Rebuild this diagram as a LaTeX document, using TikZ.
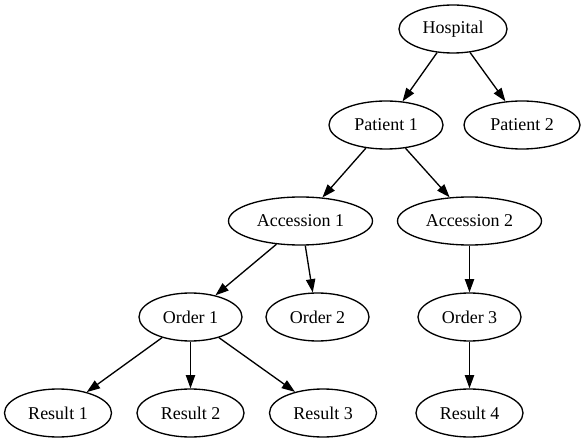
\documentclass[tikz,border=0pt]{standalone}
\usepackage{fontspec}
\setmainfont{Liberation Serif}
\usetikzlibrary{shapes.geometric,arrows.meta}
\begin{document}
\begin{tikzpicture}[x=1pt,y=-1pt,
  nd/.style={draw,ellipse,line width=1.33pt,inner sep=0pt,minimum height=48pt,font=\fontsize{18}{20}\selectfont},
  ed/.style={draw,line width=1.33pt,-{Triangle[length=13.3pt,width=9.3pt]}}]
\useasboundingbox (0,0) rectangle (583,443);
\node[nd,minimum width=108pt] (h) at (453,29) {Hospital};
\node[nd,minimum width=114pt] (p1) at (386,125) {Patient 1};
\node[nd,minimum width=116pt] (p2) at (522,125) {Patient 2};
\node[nd,minimum width=144pt] (a1) at (300.5,221) {Accession 1};
\node[nd,minimum width=144pt] (a2) at (469.5,221) {Accession 2};
\node[nd,minimum width=103pt] (o1) at (190.5,317) {Order 1};
\node[nd,minimum width=103pt] (o2) at (317.5,317) {Order 2};
\node[nd,minimum width=103pt] (o3) at (469.5,317) {Order 3};
\node[nd,minimum width=107pt] (r1) at (58,413) {Result 1};
\node[nd,minimum width=107pt] (r2) at (190.5,413) {Result 2};
\node[nd,minimum width=107pt] (r3) at (323,413) {Result 3};
\node[nd,minimum width=107pt] (r4) at (469.5,413) {Result 4};
\draw[ed] (h.236) -- (p1.55);
\draw[ed] (h.306) -- (p2.125);
\draw[ed] (p1.229) -- (a1.47);
\draw[ed] (p1.310) -- (a2.130);
\draw[ed] (a1.224) -- (o1.41);
\draw[ed] (a1.281) -- (o2.101);
\draw[ed] (a2.270) -- (o3.90);
\draw[ed] (o1.216) -- (r1.36);
\draw[ed] (o1.270) -- (r2.90);
\draw[ed] (o1.324) -- (r3.143);
\draw[ed] (o3.270) -- (r4.90);
\end{tikzpicture}
\end{document}
